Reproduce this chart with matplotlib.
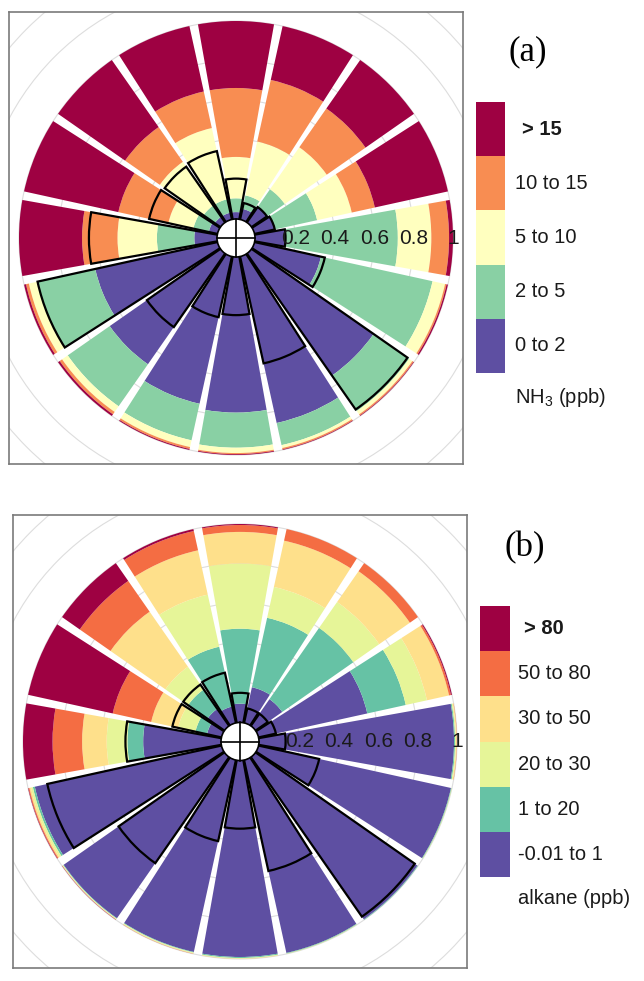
import matplotlib
matplotlib.use("Agg")
import matplotlib.pyplot as plt
import numpy as np
from matplotlib.patches import Circle, Wedge

plt.rcParams["font.family"] = ["Liberation Sans", "DejaVu Sans"]
plt.rcParams["mathtext.fontset"] = "custom"
plt.rcParams["mathtext.rm"] = "Liberation Sans"

# wind directions (deg from north, clockwise): N, NNE, ..., NNW
directions = np.arange(16) * 22.5

# (a) NH3: proportion of each concentration bin per direction (sums to 1)
nh3_labels = ["0 to 2", "2 to 5", "5 to 10", "10 to 15", "> 15"]
nh3_0_2 = [0.03, 0.05, 0.09, 0.10, 0.15, 0.34, 0.75, 0.86, 0.785, 0.76, 0.68, 0.63, 0.11, 0.04, 0.03, 0.03]
nh3_2_5 = [0.07, 0.07, 0.11, 0.22, 0.57, 0.58, 0.22, 0.115, 0.178, 0.19, 0.26, 0.30, 0.19, 0.08, 0.07, 0.07]
nh3_5_10 = [0.21, 0.28, 0.26, 0.18, 0.17, 0.065, 0.02, 0.015, 0.027, 0.035, 0.035, 0.045, 0.20, 0.13, 0.27, 0.37]
nh3_10_15 = [0.35, 0.32, 0.24, 0.12, 0.09, 0.008, 0.007, 0.007, 0.006, 0.01, 0.015, 0.015, 0.18, 0.26, 0.215, 0.19]
nh3_gt15 = [0.34, 0.28, 0.30, 0.38, 0.02, 0.007, 0.003, 0.003, 0.004, 0.005, 0.01, 0.01, 0.32, 0.49, 0.415, 0.34]
nh3_freq = [0.20, 0.08, 0.09, 0.10, 0.15, 0.36, 0.96, 0.55, 0.29, 0.31, 0.45, 0.93, 0.645, 0.35, 0.34, 0.35]
nh3_colors = ["#5E4FA2", "#89D0A4", "#FFFFBF", "#F88D52", "#9E0142"]

# (b) alkane
alk_labels = ["-0.01 to 1", "1 to 20", "20 to 30", "30 to 50", "50 to 80", "> 80"]
alk_0_1 = [0.09, 0.18, 0.16, 0.56, 0.985, 0.995, 0.997, 0.995, 0.99, 0.99, 0.99, 0.965, 0.39, 0.07, 0.10, 0.08]
alk_1_20 = [0.38, 0.36, 0.44, 0.20, 0.005, 0.003, 0.003, 0.003, 0.005, 0.003, 0.003, 0.01, 0.08, 0.06, 0.12, 0.31]
alk_20_30 = [0.33, 0.16, 0.16, 0.11, 0.005, 0.002, 0.0, 0.002, 0.003, 0.004, 0.003, 0.01, 0.105, 0.09, 0.14, 0.27]
alk_30_50 = [0.16, 0.24, 0.19, 0.115, 0.004, 0.0, 0.0, 0.0, 0.002, 0.002, 0.002, 0.008, 0.125, 0.14, 0.34, 0.23]
alk_50_80 = [0.035, 0.06, 0.05, 0.01, 0.001, 0.0, 0.0, 0.0, 0.0, 0.001, 0.001, 0.005, 0.15, 0.20, 0.19, 0.10]
alk_gt80 = [0.005, 0.0, 0.0, 0.005, 0.0, 0.0, 0.0, 0.0, 0.0, 0.0, 0.001, 0.002, 0.15, 0.44, 0.11, 0.01]
alk_freq = [0.145, 0.07, 0.07, 0.085, 0.13, 0.31, 0.98, 0.57, 0.34, 0.415, 0.65, 0.90, 0.48, 0.25, 0.25, 0.255]
alk_colors = ["#5E4FA2", "#66C2A5", "#E6F598", "#FEE08B", "#F46D43", "#9E0142"]

radial_ticks = [0.2, 0.4, 0.6, 0.8, 1.0]
radial_ticklabels = ["0.2", "0.4", "0.6", "0.8", "1"]

W, H = 644, 981
OFF = 20 / 197  # radius of the centre hole, in units of the radial scale
HALF_SPAN = 10.1  # half angular width of a wedge (deg)


def fig_xy(x, y):
    return x / W, 1 - y / H


def draw_rose(ax, bands, colors, freq):
    for r in np.arange(0.2, 1.61, 0.2):
        ax.add_patch(Circle((0, 0), OFF + r, fill=False, ec="#DDDDDD", lw=0.8, zorder=0))
    for k, d in enumerate(directions):
        t1 = 90 - d - HALF_SPAN
        t2 = 90 - d + HALF_SPAN
        start = 0.0
        for band, col in zip(bands, colors):
            val = band[k]
            if val > 0:
                ax.add_patch(Wedge((0, 0), OFF + start + val, t1, t2, width=val + (OFF if start == 0 else 0),
                                   fc=col, ec="none", zorder=2))
            start += val
        ax.add_patch(Wedge((0, 0), OFF + freq[k], t1, t2, fill=False, ec="black", lw=1.6,
                           joinstyle="miter", zorder=3))
    ax.add_patch(Circle((0, 0), OFF * 0.95, fc="white", ec="black", lw=1.2, zorder=5))
    ax.plot([-OFF * 0.95, OFF * 0.95], [0, 0], color="black", lw=1.2, zorder=6)
    ax.plot([0, 0], [-OFF * 0.95, OFF * 0.95], color="black", lw=1.2, zorder=6)
    for v, lbl in zip(radial_ticks, radial_ticklabels):
        ax.text(OFF + v, 0, lbl, ha="center", va="center", fontsize=15, color="#1a1a1a", zorder=7)
    ax.set_xlim(-227 / 197, 227 / 197)
    ax.set_ylim(-226 / 197, 226 / 197)
    ax.set_xticks([])
    ax.set_yticks([])
    for s in ax.spines.values():
        s.set_color("#7a7a7a")
        s.set_linewidth(1.2)


def draw_key(box, colors, labels, text_x, first_x, title, title_y):
    x0, y0, x1, y1 = box
    l, b = fig_xy(x0, y1)
    kax = fig.add_axes([l, b, (x1 - x0) / W, (y1 - y0) / H])
    n = len(colors)
    kax.bar(np.full(n, 0.5), np.ones(n), width=1.0, bottom=np.arange(n), color=colors)
    kax.set_xlim(0, 1)
    kax.set_ylim(0, n)
    kax.axis("off")
    h = (y1 - y0) / n
    for i, lbl in enumerate(labels):
        yc = y1 - (i + 0.5) * h
        top = i == n - 1
        fig.text(*fig_xy(first_x if top else text_x, yc), lbl, ha="left", va="center", fontsize=14.5,
                 color="#1a1a1a", fontweight="bold" if top else "normal")
    fig.text(*fig_xy(text_x, title_y), title, ha="left", va="center", fontsize=14.5, color="#1a1a1a")


fig = plt.figure(figsize=(W / 100, H / 100), dpi=100)

ax_a = fig.add_axes([9 / W, 1 - 464 / H, 454 / W, 452 / H])
draw_rose(ax_a, [nh3_0_2, nh3_2_5, nh3_5_10, nh3_10_15, nh3_gt15], nh3_colors, nh3_freq)
draw_key((476, 102, 505, 373), nh3_colors, nh3_labels, 515, 522, "NH$_3$ (ppb)", 397)
fig.text(*fig_xy(528, 52), "(a)", ha="center", va="center", fontsize=25, family="Liberation Serif")

ax_b = fig.add_axes([13 / W, 1 - 968 / H, 454 / W, 453 / H])
draw_rose(ax_b, [alk_0_1, alk_1_20, alk_20_30, alk_30_50, alk_50_80, alk_gt80], alk_colors, alk_freq)
draw_key((480, 606, 510, 877), alk_colors, alk_labels, 518, 524, "alkane (ppb)", 898)
fig.text(*fig_xy(525, 548), "(b)", ha="center", va="center", fontsize=25, family="Liberation Serif")

fig.savefig("out.png", dpi=100)
